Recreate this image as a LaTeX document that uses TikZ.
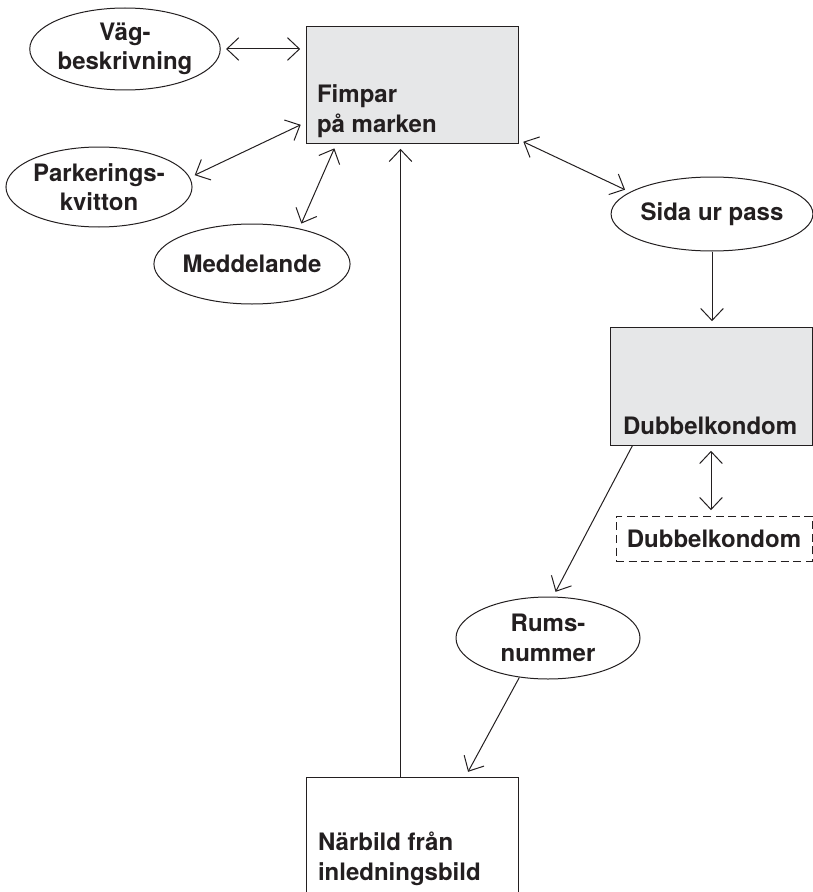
\documentclass[tikz,border=0pt]{standalone}
\usepackage{fontspec}
\setmainfont{TeX Gyre Heros}
\usetikzlibrary{calc,shapes.geometric,arrows.meta}
\definecolor{boxgray}{HTML}{E6E7E8}
\definecolor{ink}{HTML}{231F20}
\begin{document}
\begin{tikzpicture}[
 x=0.75pt,y=-0.75pt,
 line width=0.75pt,
 draw=ink,text=ink,
 font=\fontsize{18}{22}\selectfont\bfseries,
 >={Straight Barb[length=9pt,width=17pt]},
 align=center,
 inner sep=0pt,
 item/.style={draw=ink,ellipse,minimum width=138pt,minimum height=60pt},
 main/.style={draw=ink,rectangle,fill=boxgray,minimum width=159pt,minimum height=87pt},
 plain/.style={draw=ink,rectangle,minimum width=159pt,minimum height=92.25pt},
 copy/.style={draw=ink,rectangle,dashed,dash pattern=on 6pt off 3.5pt,minimum width=147pt,minimum height=33.75pt},
 boxtext/.style={anchor=south west,align=left,inner xsep=8.25pt,inner ysep=8pt,text depth=0pt},
 conn/.style={draw=ink,->,shorten >=4pt},
 both/.style={draw=ink,<->,shorten >=4pt,shorten <=4pt}
]
\useasboundingbox (0,0) rectangle (813,892);
\node (fimpar) [main,label={[boxtext]south west:Fimpar\\på marken}] at (412,85) {};
\node (dubbel) [main,minimum width=151.5pt,minimum height=88.5pt,label={[boxtext,inner xsep=9.75pt]south west:Dubbelkondom}] at (711,386) {};
\node (narbild) [plain,label={[boxtext,yshift=7pt,inner xsep=9pt]south west:Närbild från\\inledningsbild}] at (412,838.5) {};
\node (dubbelkopia) [copy] at (714,538.5) {Dubbelkondom};
\node (vag) [item,minimum height=61.5pt] at (125,49) {Väg-\\beskrivning};
\node (parkering) [item] at (99,187) {Parkerings-\\kvitton};
\node (meddelande) [item,minimum width=136pt] at (252,264) {Meddelande};
\node (sida) [item,minimum width=136pt,minimum height=55.5pt] at (712,214) {Sida ur pass};
\node (rums) [item,minimum height=61.5pt] at (548,638) {Rums-\\nummer};
\draw[both] (vag.east) -- (vag.east -| fimpar.west);
\draw[both] (parkering.6) -- ($(fimpar.south west)+(0,-21)$);
\draw[both] (meddelande.37) -- ($(fimpar.south west)+(31,0)$);
\draw[both] ($(fimpar.south east)+(0,-4)$) -- (sida.165);
\draw[conn] (sida.south) -- (sida.south |- dubbel.north);
\draw[both] (dubbel.south) -- (dubbel.south |- dubbelkopia.north);
\draw[conn] ($(dubbel.south west)+(23,0)$) -- (rums.83);
\draw[conn] (rums.234) -- ($(narbild.north west)+(160,0)$);
\draw[conn] ($(narbild.north west)+(95,0)$) -- ($(fimpar.south west)+(95,0)$);
\end{tikzpicture}
\end{document}
